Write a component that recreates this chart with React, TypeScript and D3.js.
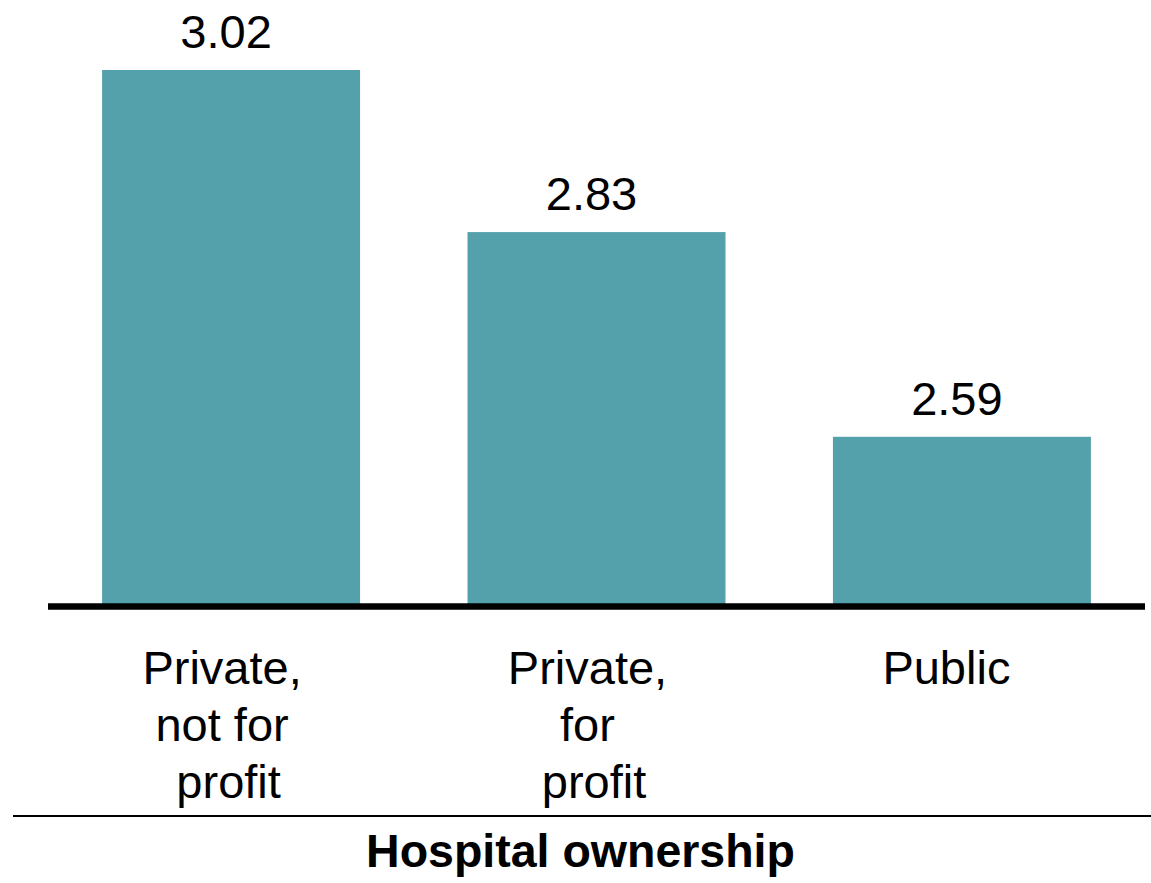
import React from "react";
import * as d3 from "d3";

const categories: string[] = ["Private, not for profit", "Private, for profit", "Public"];
const categoryLines: string[][] = [
  ["Private,", "not for", " profit"],
  ["Private,", "for", " profit"],
  ["Public "],
];
const values: number[] = [3.02, 2.83, 2.59];
const valueLabels: string[] = ["3.02", "2.83", "2.59"];
const axisTitle = "Hospital ownership";

const W = 1151;
const H = 883;
const FONT = "'Liberation Sans', Arial, Helvetica, sans-serif";
const BAR_COLOR = "#55a1ab";

export default function App() {
  const x = d3
    .scaleBand<string>()
    .domain(categories)
    .range([48, 1145])
    .paddingInner(0.294)
    .paddingOuter(0.148);

  const baseY = 604;
  const y = d3.scaleLinear().domain([2.394, 3.02]).range([baseY, 70]);

  return (
    <svg
      width={W}
      height={H}
      style={{ position: "absolute", left: 0, top: 0, background: "#fff" }}
      fontFamily={FONT}
    >
      <rect x={0} y={0} width={W} height={H} fill="#fff" />
      {categories.map((c, i) => {
        const bx = x(c) as number;
        const bw = x.bandwidth();
        const top = y(values[i]);
        const cx = bx + bw / 2;
        return (
          <g key={c}>
            <rect x={bx} y={top} width={bw} height={baseY - top} fill={BAR_COLOR} />
            <text x={cx - 5} y={top - 22} textAnchor="middle" fontSize={47} fill="#000">
              {valueLabels[i]}
            </text>
            <text
              textAnchor="middle"
              fontSize={47}
              fill="#000"
              style={{ whiteSpace: "pre" }}
              xmlSpace="preserve"
            >
              {categoryLines[i].map((l, j) => (
                <tspan key={j} x={cx - 9} y={684 + j * 57}>
                  {l}
                </tspan>
              ))}
            </text>
          </g>
        );
      })}
      <line x1={48} x2={1145} y1={606.5} y2={606.5} stroke="#000" strokeWidth={6.5} />
      <line x1={13} x2={W} y1={816} y2={816} stroke="#000" strokeWidth={2.2} />
      <text x={580.5} y={867} textAnchor="middle" fontSize={46.5} fontWeight="bold" fill="#000">
        {axisTitle}
      </text>
    </svg>
  );
}
